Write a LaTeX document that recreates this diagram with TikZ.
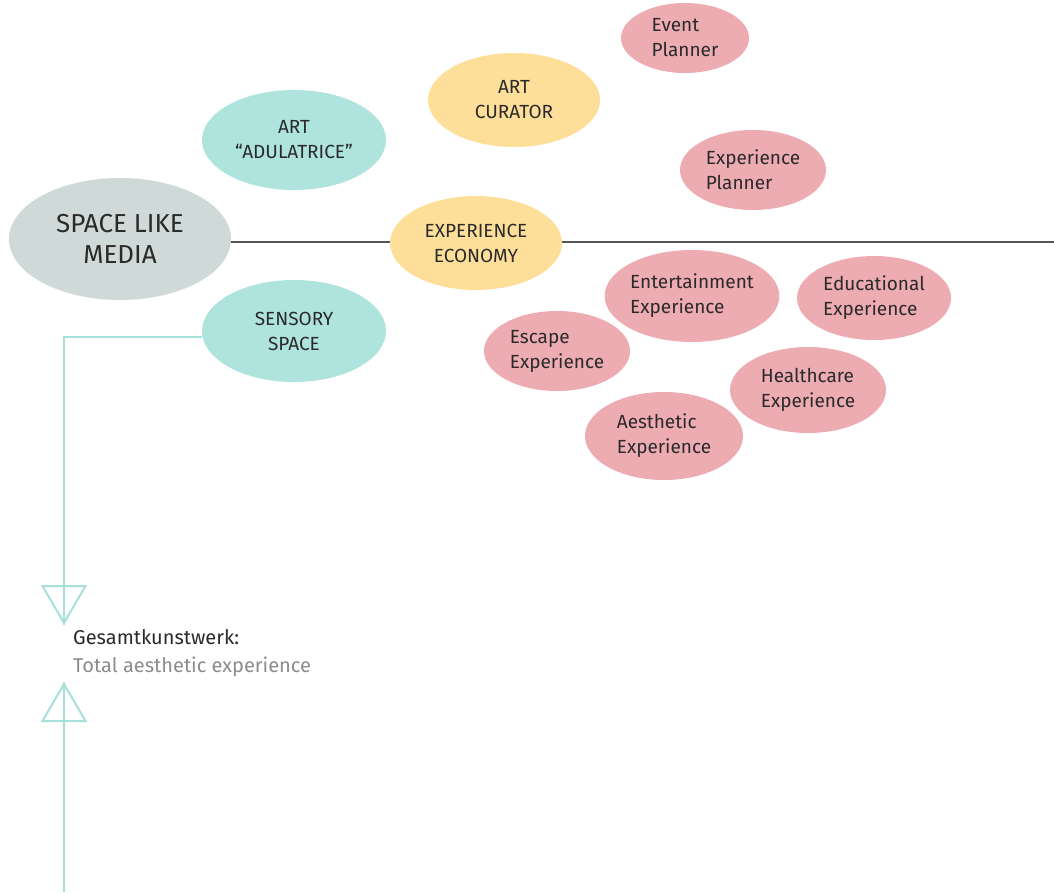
\documentclass[tikz,border=0pt]{standalone}
\usepackage{fontspec}
\setmainfont{Fira Sans}
\usepackage{xcolor}
\usetikzlibrary{shapes.geometric, arrows.meta, positioning}

\definecolor{mediagray}{HTML}{CFD9D7}
\definecolor{teal}{HTML}{AEE3DE}
\definecolor{tealline}{HTML}{A6E0DA}
\definecolor{sand}{HTML}{FDDF9A}
\definecolor{rose}{HTML}{EDABB2}
\definecolor{ink}{HTML}{2A2A2A}

\begin{document}
\begin{tikzpicture}[x=1pt, y=-1pt,
    every node/.style={font=\fontsize{19}{25}\selectfont, text=ink},
    bubble/.style={ellipse, inner sep=0pt, align=center},
    media/.style={bubble, fill=mediagray, font=\fontsize{26}{31}\selectfont},
    sense/.style={bubble, fill=teal},
    econ/.style={bubble, fill=sand},
    job/.style={bubble, fill=rose, align=left},
    flow/.style={tealline, line width=2pt},
    opentip/.style={-{Triangle[open, length=40pt, width=46pt, line width=2pt]}}]
    \useasboundingbox (0,0) rectangle (1054,892);

    % Bubbles
    \node[media, minimum width=222pt, minimum height=122pt] (spacemedia) at (120,239) {SPACE LIKE\\MEDIA};
    \node[sense, minimum width=184pt, minimum height=100pt] (artadul) at (294,140) {ART\\``ADULATRICE''};
    \node[sense, minimum width=184pt, minimum height=102pt] (sensory) at (294,331) {SENSORY\\SPACE};
    \node[econ, minimum width=172pt, minimum height=94pt] (artcurator) at (514,100) {ART\\CURATOR};
    \node[econ, minimum width=172pt, minimum height=94pt] (expeco) at (476,243) {EXPERIENCE\\ECONOMY};

    \node[job, minimum width=128pt, minimum height=70pt] (eventplan) at (685,38) {Event\\Planner};
    \node[job, minimum width=146pt, minimum height=80pt] (expplan) at (753,170) {Experience\\Planner};
    \node[job, minimum width=168pt, minimum height=92pt] (entexp) at (692,296) {Entertainment\\Experience};
    \node[job, minimum width=154pt, minimum height=84pt] (eduexp) at (874,298) {Educational\\Experience};
    \node[job, minimum width=146pt, minimum height=80pt] (escexp) at (557,351) {Escape\\Experience};
    \node[job, minimum width=156pt, minimum height=86pt] (healthexp) at (808,390) {Healthcare\\Experience};
    \node[job, minimum width=158pt, minimum height=88pt] (aesexp) at (664,436) {Aesthetic\\Experience};

    % Axis
    \coordinate (axisend) at (1054,242);
    \draw[ink!80, line width=1.2pt] (spacemedia.east |- axisend) -- (expeco.west |- axisend);
    \draw[ink!80, line width=1.2pt] (expeco.east |- axisend) -- (axisend);

    % Gesamtkunstwerk
    \node[anchor=north west, align=left, inner sep=0pt, font=\fontsize{20}{28}\selectfont] (gesamt) at (73,629)
        {Gesamtkunstwerk:\\\textcolor{gray!90}{Total aesthetic experience}};
    \coordinate (toptip) at (64,625);
    \coordinate (topback) at (64,560);
    \coordinate (bottip) at (64,682);
    \coordinate (botback) at (64,760);
    \coordinate (botend) at (64,892);

    \draw[flow] ([yshift=-6pt]sensory.west) -| (toptip);
    \draw[flow, opentip] (topback) -- (toptip);
    \draw[flow] (botend) -- (bottip);
    \draw[flow, opentip] (botback) -- (bottip);
\end{tikzpicture}
\end{document}
